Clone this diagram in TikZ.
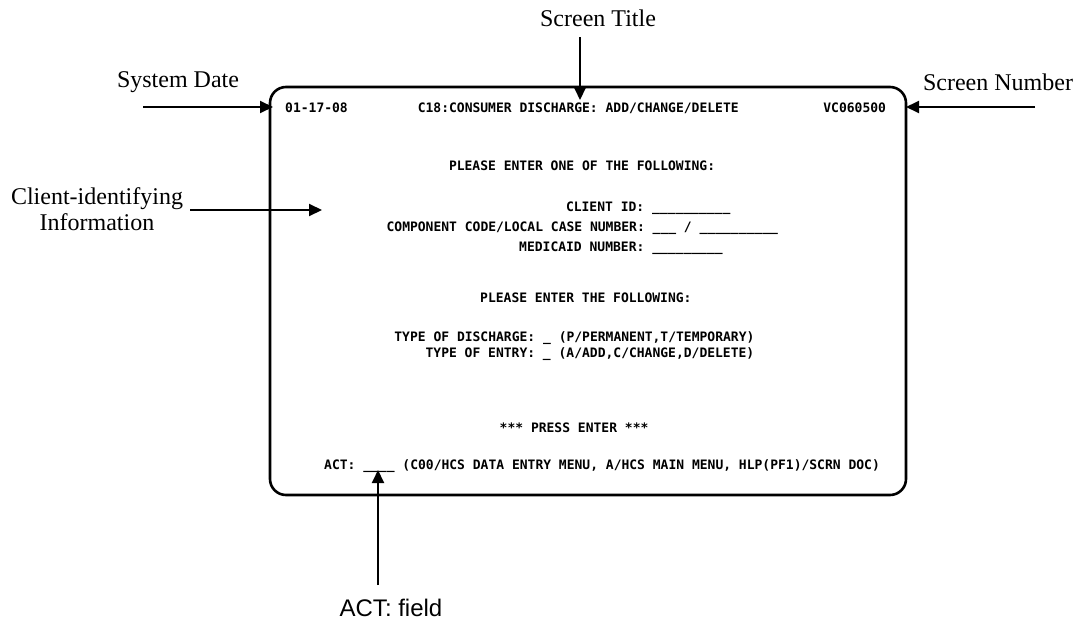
\documentclass[tikz,border=0pt]{standalone}
\usepackage{fontspec}
\setmainfont{Liberation Serif}
\newfontfamily\scrfont{DejaVu Sans Mono}
\newfontfamily\actfont{Liberation Sans}
\usetikzlibrary{arrows.meta}

% terminal grid: column 0 at x=285, one character cell = 7.8
\newcommand\cx[1]{285+7.8*#1}

\tikzset{
  screenbox/.style={draw, line width=2.6pt, rounded corners=16pt,
    minimum width=636pt, minimum height=408pt, inner sep=0pt},
  term/.style={anchor=base west, inner sep=0pt,
    font=\scrfont\bfseries\fontsize{13}{15}\selectfont},
  callout/.style={inner sep=0pt, font=\fontsize{24}{26}\selectfont, align=center},
  pointer/.style={line width=2pt, -{Triangle[length=13pt,width=12pt]}}
}

\begin{document}
\begin{tikzpicture}[x=1pt,y=-1pt]
\useasboundingbox (0,0) rectangle (1083,621);

% terminal screen outline
\node[screenbox] (screen) at (588,291) {};

% screen contents
\node[term] (date)   at ({\cx{0}},112)  {01-17-08};
\node[term] (title)  at ({\cx{17}},112) {C18:CONSUMER DISCHARGE: ADD/CHANGE/DELETE};
\node[term] (scrnum) at ({\cx{69}},112) {VC060500};
\node[term] (one)    at ({\cx{21}},170) {PLEASE ENTER ONE OF THE FOLLOWING:};
\node[term] (cid)    at ({\cx{36}},211) {CLIENT ID: \_\_\_\_\_\_\_\_\_\_};
\node[term] (comp)   at ({\cx{13}},231) {COMPONENT CODE/LOCAL CASE NUMBER: \_\_\_ / \_\_\_\_\_\_\_\_\_\_};
\node[term] (mcd)    at ({\cx{30}},251) {MEDICAID NUMBER: \_\_\_\_\_\_\_\_\_};
\node[term] (the)    at ({\cx{25}},302) {PLEASE ENTER THE FOLLOWING:};
\node[term] (disc)   at ({\cx{14}},341) {TYPE OF DISCHARGE: \_ (P/PERMANENT,T/TEMPORARY)};
\node[term] (entry)  at ({\cx{18}},357) {TYPE OF ENTRY: \_ (A/ADD,C/CHANGE,D/DELETE)};
\node[term] (press)  at ({\cx{27.5}},432) {*** PRESS ENTER ***};
\node[term] (act)    at ({\cx{5}},469)  {ACT: \_\_\_\_ (C00/HCS DATA ENTRY MENU, A/HCS MAIN MENU, HLP(PF1)/SCRN DOC)};

% callout labels
\node[callout] (lbltitle)  at (598,18)  {Screen Title};
\node[callout] (lbldate)   at (178,82)  {System Date};
\node[callout] (lblnum)    at (998,82)  {Screen Number};
\node[callout] (lblclient) at (97,209)  {Client-identifying\\Information};
\node[callout, font=\actfont\fontsize{24}{26}\selectfont] (lblact) at (391,608) {ACT: field};

% pointer ends
\coordinate (t1) at (580,37);   \coordinate (h1) at (580,100);
\coordinate (t2) at (143,107);  \coordinate (h2) at (273,107);
\coordinate (t3) at (1035,107); \coordinate (h3) at (906,107);
\coordinate (t4) at (190,210);  \coordinate (h4) at (322,210);
\coordinate (t5) at (378,585);  \coordinate (h5) at (378,470);

\draw[pointer] (t1) -- (h1);
\draw[pointer] (t2) -- (h2);
\draw[pointer] (t3) -- (h3);
\draw[pointer] (t4) -- (h4);
\draw[pointer] (t5) -- (h5);
\end{tikzpicture}
\end{document}
